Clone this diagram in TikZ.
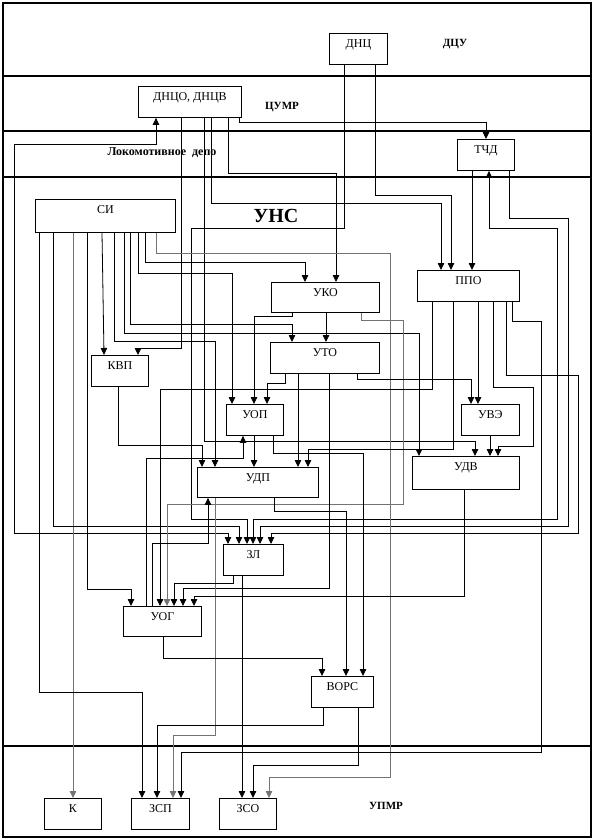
\documentclass[tikz,border=0pt]{standalone}
\usepackage{fontspec}
\setmainfont{Liberation Serif}
\usetikzlibrary{arrows.meta}

\begin{document}
\begin{tikzpicture}[%
        x = 1pt,
        y = -1pt,
        line width = 0.8pt,
        line cap = butt,
        > = {Triangle[width = 6.5pt, length = 7pt]},
        box/.style = {draw, line width = 0.9pt, anchor = north west,
            inner sep = 0pt, text height = 14pt, text depth = #1,
            font = \fontsize{12}{14}\selectfont},
        box/.default = 17pt,
        level/.style = {font = \bfseries\fontsize{11}{13}\selectfont},
        band/.style = {line width = 2.5pt},
        faint/.style = {draw = black!55}
    ]

        \useasboundingbox (0,0) rectangle (594,840);

        % Outer frame and the horizontal bands of the levels.
        \draw[band] (3,3) rectangle (591,837);
        \draw[band] (3,76) to (591,76);
        \draw[band] (3,131) to (591,131);
        \draw[band] (3,177) to (591,177);
        \draw[band] (3,746) to (591,746);

        % Names of the levels.
        \node[level] (dcu) at (455,44) {ДЦУ};
        \node[level] (cumr) at (282,107) {ЦУМР};
        \node[level, font = \bfseries\fontsize{12}{14}\selectfont] (depo) at (162,153) {Локомотивное\ \ депо};
        \node[font = \bfseries\fontsize{20}{24}\selectfont] (uns) at (276,216) {УНС};
        \node[level] (upmr) at (386,806) {УПМР};

        % Boxes, placed by their upper left corners.
        \node[box, minimum width = 58pt] (dnc) at (329,33) {ДНЦ};
        \node[box, minimum width = 103pt] (dnco) at (138,86) {ДНЦО, ДНЦВ};
        \node[box, minimum width = 57pt] (tchd) at (457,139) {ТЧД};
        \node[box = 19pt, minimum width = 140pt] (si) at (35,199) {СИ};
        \node[box = 16pt, minimum width = 108pt] (uko) at (271,282) {УКО};
        \node[box, minimum width = 102pt] (ppo) at (417,270) {ППО};
        \node[box, minimum width = 109pt] (uto) at (270,342) {УТО};
        \node[box, minimum width = 57pt] (kvp) at (91,355) {КВП};
        \node[box, minimum width = 57pt] (uop) at (226,404) {УОП};
        \node[box, minimum width = 58pt] (uve) at (461,404) {УВЭ};
        \node[box = 16pt, minimum width = 121pt] (udp) at (197,467) {УДП};
        \node[box = 19pt, minimum width = 107pt] (udv) at (412,456) {УДВ};
        \node[box, minimum width = 60pt] (zl) at (223,544) {ЗЛ};
        \node[box = 16pt, minimum width = 78pt] (uog) at (123,606) {УОГ};
        \node[box, minimum width = 62pt] (vors) at (311,676) {ВОРС};
        \node[box, minimum width = 57pt] (k) at (44,798) {К};
        \node[box, minimum width = 58pt] (zsp) at (131,798) {ЗСП};
        \node[box, minimum width = 57pt] (zso) at (219,798) {ЗСО};

        % Links from the upper levels.
        \draw[->] (dnco.south -| 239,0) |- (486,122) to (tchd.north -| 486,0);
        \draw[<->] (dnco.south -| 156,0) |- (14,144) |- (228,533) to (zl.north -| 228,0);
        \draw[->] (dnco.south -| 228,0) |- (336,173) to (uko.north -| 336,0);
        \draw[->] (dnco.south -| 181,0) |- (138,348) to (kvp.north -| 138,0);
        \draw[->] (dnco.south -| 211,0) |- (441,203) to (ppo.north -| 441,0);
        \draw[->] (dnco.south -| 204,0) |- (475,441) to (udv.north -| 475,0);
        \draw[->] (dnc.south -| 344,0) |- (191,228) |- (247,519) to (zl.north -| 247,0);
        \draw[->] (dnc.south -| 375,0) |- (451,195) to (ppo.north -| 451,0);
        \draw[->] (tchd.south -| 472,0) to (ppo.north -| 472,0);
        \draw[<->] (tchd.south -| 489,0) |- (557,228) |- (253,519) to (zl.north -| 253,0);
        \draw[->] (tchd.south -| 509,0) |- (568,218) |- (260,526) to (zl.north -| 260,0);

        % Links from СИ.
        \draw[->, faint] (si.south -| 156,0) |- (390,253) |- (269,777) to (zso.north -| 269,0);
        \draw[->] (si.south -| 145,0) |- (305,262) to (uko.north -| 305,0);
        \draw[->] (si.south -| 138,0) |- (232,273) to (uop.north -| 232,0);
        \draw[->] (si.south -| 130,0) |- (292,324) to (uto.north -| 292,0);
        \draw[->] (si.south -| 124,0) |- (419,333) to (udv.north -| 419,0);
        \draw[->] (si.south -| 114,0) |- (215,341) to (udp.north -| 215,0);
        \draw[->] (si.south -| 102,0) to (kvp.north -| 104,0);
        \draw[->] (si.south -| 87,0) |- (131,589) to (uog.north -| 131,0);
        \draw[->, faint] (si.south -| 73,0) to (k.north -| 73,0);
        \draw[->] (si.south -| 53,0) |- (239,526) to (zl.north -| 239,0);
        \draw[->] (si.south -| 39,0) |- (142,692) to (zsp.north -| 142,0);

        % Links from УКО, УТО and ППО.
        \draw[->] (uko.south -| 292,0) |- (254,316) to (uop.north -| 254,0);
        \draw[->] (uko.south -| 326,0) to (uto.north -| 326,0);
        \draw[->, faint] (uko.south -| 361,0) |- (403,320) |- (167,504) to (uog.north -| 167,0);
        \draw[->] (uto.south -| 285,0) |- (267,383) to (uop.north -| 267,0);
        \draw[->] (uto.south -| 298,0) to (udp.north -| 298,0);
        \draw[->] (uto.south -| 329,0) |- (183,588) to (uog.north -| 183,0);
        \draw[->] (uto.south -| 357,0) |- (471,379) to (uve.north -| 471,0);
        \draw[->] (ppo.south -| 432,0) |- (160,389) to (uog.north -| 160,0);
        \draw[->] (ppo.south -| 453,0) |- (308,449) to (udp.north -| 308,0);
        \draw[->] (ppo.south -| 478,0) to (uve.north -| 478,0);
        \draw[->] (ppo.south -| 493,0) |- (533,387) |- (498,446) to (udv.north -| 498,0);
        \draw[->] (ppo.south -| 506,0) |- (578,375) |- (271,533) to (zl.north -| 271,0);
        \draw[->] (ppo.south -| 512,0) |- (541,321) |- (181,752) to (zsp.north -| 181,0);

        % Links of the middle boxes.
        \draw[->] (kvp.south -| 118,0) |- (202,445) to (udp.north -| 202,0);
        \draw[->] (uog.north -| 146,0) |- (243,458) to (uop.south -| 243,0);
        \draw[->] (uog.north -| 152,0) |- (208,543) to (udp.south -| 208,0);
        \draw[->] (uop.south -| 254,0) to (udp.north -| 254,0);
        \draw[->] (uop.south -| 273,0) |- (363,453) to (vors.north -| 363,0);
        \draw[->] (udp.south -| 274,0) |- (346,511) to (vors.north -| 346,0);
        \draw[->, faint] (udp.south -| 215,0) |- (173,735) to (zsp.north -| 173,0);
        \draw[->] (udv.south -| 464,0) |- (194,596) to (uog.north -| 194,0);
        \draw[->] (uve.south -| 490,0) to (udv.north -| 490,0);
        \draw[->] (zl.south -| 233,0) |- (174,583) to (uog.north -| 174,0);
        \draw[->] (zl.south -| 242,0) to (zso.north -| 242,0);

        % Links down to the lowest level.
        \draw[->] (uog.south -| 163,0) |- (322,658) to (vors.north -| 322,0);
        \draw[->] (vors.south -| 323,0) |- (157,725) to (zsp.north -| 157,0);
        \draw[->] (vors.south -| 358,0) |- (253,765) to (zso.north -| 253,0);
    \end{tikzpicture}
\end{document}
